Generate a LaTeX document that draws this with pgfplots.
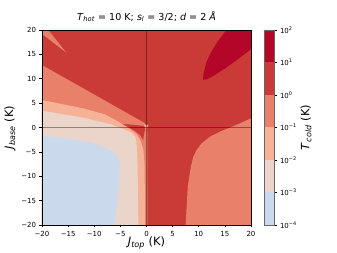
\documentclass[border=0pt]{standalone}
\usepackage{fontspec}
\setmainfont{DejaVu Sans}
\usepackage{pgfplots}
\pgfplotsset{compat=1.18}
\definecolor{cA}{RGB}{203,217,236}
\definecolor{cB}{RGB}{235,213,202}
\definecolor{cC}{RGB}{246,178,150}
\definecolor{cD}{RGB}{233,128,106}
\definecolor{cE}{RGB}{202,58,54}
\definecolor{cF}{RGB}{180,6,40}
\newcommand{\tk}{\fontsize{7}{8}\selectfont}
\newcommand{\lb}{\fontsize{11.5}{13}\selectfont}
\begin{document}
\begin{tikzpicture}
\path[use as bounding box] (0,0) rectangle (337bp,253bp);
\begin{axis}[at={(42bp,28bp)}, anchor=south west, scale only axis,
  width=209bp, height=195bp,
  xmin=-20, xmax=20, ymin=-20, ymax=20,
  axis on top, tick align=outside, major tick length=2.5bp,
  xtick pos=bottom, ytick pos=left,
  xtick={-20,-15,...,20}, ytick={-20,-15,...,20},
  xticklabels={−20,−15,−10,−5,0,5,10,15,20},
  yticklabels={−20,−15,−10,−5,0,5,10,15,20},
  tick label style={font=\tk},
  axis line style={line width=0.6bp},
  every tick/.style={line width=0.6bp, black},
  xlabel={\textit{J}\textsubscript{\textit{top}} (K)},
  ylabel={\textit{J}\textsubscript{\textit{base}} (K)},
  xlabel style={font=\lb, at={(axis description cs:0.5,-0.092)}, anchor=center},
  ylabel style={font=\lb, at={(axis description cs:-0.153,0.5)}, anchor=center},
  title={\textit{T}\textsubscript{\textit{hot}} = 10 K; \textit{s}\textsubscript{\textit{l}} = 3/2; \textit{d} = 2 \textit{Å}},
  title style={font=\fontsize{9.6}{11}\selectfont, at={(axis description cs:0.5,1.038)}, anchor=center},
]
% background: 10^0 - 10^1
\addplot[fill=cE, draw=none] coordinates {(-20,-20)(20,-20)(20,20)(-20,20)} -- cycle;
% left salmon
\addplot[fill=cD, draw=none] coordinates {(-20,12.8)(-7,4.95)(-0.4,0.95)(0.1,0.25)(0.15,-1)(0.15,-20)(-20,-20)} -- cycle;
% left light salmon
\addplot[fill=cC, draw=none] coordinates {(-20,5.64)(-12,3.9)(-8,2.7)(-5.5,1.3)(-4,0.2)(-2.8,-0.6)(-1.8,-1.5)(-1.1,-2.8)(-0.6,-4.5)(-0.35,-8)(-0.3,-20)(-20,-20)} -- cycle;
% beige
\addplot[fill=cB, draw=none] coordinates {(-20,3.45)(-12,2.0)(-7,0.7)(-4.5,-0.3)(-3,-1.0)(-2.2,-1.8)(-1.9,-3)(-1.7,-8)(-1.56,-20)(-20,-20)} -- cycle;
% light blue
\addplot[fill=cA, draw=none] coordinates {(-20,-1.7)(-15.3,-2.2)(-10.2,-3.25)(-7,-4.6)(-5.6,-5.8)(-5.1,-7.3)(-5.3,-12)(-6.0,-19)(-6.2,-20)(-20,-20)} -- cycle;
% red wedge near origin
\addplot[fill=cE, draw=none] coordinates {(-4.56,0.72)(-2.5,0.55)(-0.2,0.3)(-0.3,-0.5)(-0.5,-1.6)(-0.65,-2.6)(-1.2,-1.6)(-2.2,-0.7)(-3.5,0.1)} -- cycle;
% light spot at origin
\addplot[fill=cC, draw=none] coordinates {(-0.6,0.55)(0.4,0.55)(0,-0.3)} -- cycle;
% right salmon
\addplot[fill=cD, draw=none] coordinates {(20,1.88)(17.9,0.86)(16,0.0)(14.07,-0.85)(12.15,-1.88)(10.56,-3.25)(9.6,-4.6)(8.95,-6)(8.5,-8)(7.9,-12)(7.5,-20)(20,-20)} -- cycle;
% dark red ellipse
\addplot[fill=cF, draw=none] coordinates {(10.8,9.8)(10.9,11)(11.5,13.5)(12.5,15.7)(13.6,17.6)(15.3,20)(20,20)(20,16.1)(17.5,14.0)(15,12.1)(13,10.7)(11.6,9.9)} -- cycle;
% top-left sliver
\addplot[fill=cD, draw=none] coordinates {(-20,20)(-18.8,20)(-15.3,15.3)(-20,19.2)} -- cycle;
% zero lines
\addplot[black, opacity=0.4, line width=0.5bp] coordinates {(0,-20)(0,20)};
\addplot[black, opacity=0.4, line width=0.5bp] coordinates {(-20,0)(20,0)};
\end{axis}
\begin{axis}[at={(264bp,28bp)}, anchor=south west, scale only axis,
  width=10bp, height=195bp,
  xmin=0, xmax=1, ymin=-4, ymax=2,
  axis on top, tick align=outside, major tick length=2.5bp,
  xtick=\empty, ytick={-4,...,2}, ytick pos=right, yticklabel pos=right,
  yticklabels={10\textsuperscript{−4},10\textsuperscript{−3},10\textsuperscript{−2},10\textsuperscript{−1},10\textsuperscript{0},10\textsuperscript{1},10\textsuperscript{2}},
  tick label style={font=\tk},
  axis line style={line width=0.6bp, black!60},
  every tick/.style={line width=0.6bp, black},
  ylabel={\textit{T}\textsubscript{\textit{cold}} (K)},
  ylabel style={font=\lb, at={(axis description cs:4.2,0.5)}, anchor=center, rotate=0},
]
\addplot[fill=cA, draw=none] coordinates {(0,-4)(1,-4)(1,-3)(0,-3)} -- cycle;
\addplot[fill=cB, draw=none] coordinates {(0,-3)(1,-3)(1,-2)(0,-2)} -- cycle;
\addplot[fill=cC, draw=none] coordinates {(0,-2)(1,-2)(1,-1)(0,-1)} -- cycle;
\addplot[fill=cD, draw=none] coordinates {(0,-1)(1,-1)(1,0)(0,0)} -- cycle;
\addplot[fill=cE, draw=none] coordinates {(0,0)(1,0)(1,1)(0,1)} -- cycle;
\addplot[fill=cF, draw=none] coordinates {(0,1)(1,1)(1,2)(0,2)} -- cycle;
\end{axis}
\end{tikzpicture}
\end{document}
